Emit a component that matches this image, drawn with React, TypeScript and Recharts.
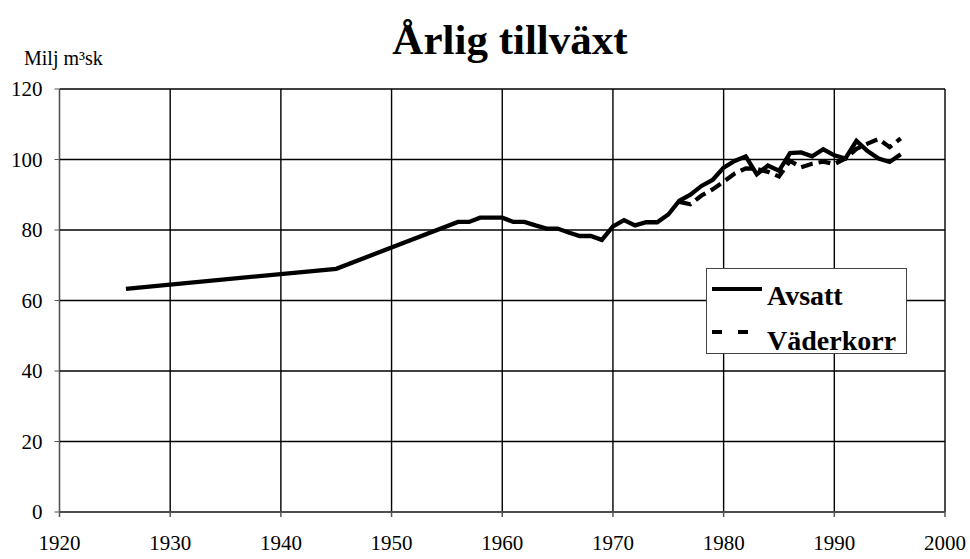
import { LineChart, Line, XAxis, YAxis, CartesianGrid } from "recharts";

const years = [1926, 1945, 1956, 1957, 1958, 1959, 1960, 1961, 1962, 1963, 1964, 1965, 1966, 1967, 1968, 1969, 1970, 1971, 1972, 1973, 1974, 1975, 1976, 1977, 1978, 1979, 1980, 1981, 1982, 1983, 1984, 1985, 1986, 1987, 1988, 1989, 1990, 1991, 1992, 1993, 1994, 1995, 1996];

const avsatt = [63.3, 69, 82.3, 82.3, 83.5, 83.5, 83.5, 82.3, 82.3, 81.3, 80.4, 80.4, 79.3, 78.3, 78.3, 77.2, 81, 82.8, 81.3, 82.2, 82.2, 84.4, 88.3, 90, 92.5, 94.2, 97.7, 99.6, 100.9, 95.8, 98.3, 96.8, 101.8, 102, 100.9, 102.9, 101.2, 100.3, 105.3, 102.4, 100.3, 99.3, 101.5];

const vaderkorr = [null, null, null, null, null, null, null, null, null, null, null, null, null, null, null, null, null, null, null, null, null, null, 88, 87.3, 89.8, 91.5, 93.7, 96, 97.5, 97.3, 96.5, 95.2, 99.6, 97.8, 98.8, 99.4, 98.7, 100.3, 103, 104.5, 105.8, 103.5, 106];

const xTicks = [1920, 1930, 1940, 1950, 1960, 1970, 1980, 1990, 2000];
const yTicks = [0, 20, 40, 60, 80, 100, 120];

const data = years.map((year, i) => ({ year, avsatt: avsatt[i], vaderkorr: vaderkorr[i] }));

const font = "'Liberation Serif', 'Times New Roman', serif";

function LegendBox() {
  return (
    <div
      style={{
        position: "absolute",
        left: 706,
        top: 268,
        width: 199,
        height: 84,
        border: "1px solid #444",
        background: "#fff",
        fontFamily: font,
        fontWeight: "bold",
        fontSize: 28,
        lineHeight: "normal",
      }}
    >
      <svg width={60} height={84} style={{ position: "absolute", left: 0, top: 0 }}>
        <line x1={5} x2={55} y1={20} y2={20} stroke="#000" strokeWidth={4} />
        <line x1={5} x2={45} y1={63} y2={63} stroke="#000" strokeWidth={4} strokeDasharray="10 16" />
      </svg>
      <div style={{ position: "absolute", left: 60, top: 11 }}>Avsatt</div>
      <div style={{ position: "absolute", left: 60, top: 56 }}>Väderkorr</div>
    </div>
  );
}

export default function App() {
  return (
    <div style={{ position: "absolute", left: 0, top: 0, width: 970, height: 559, background: "#fff", fontFamily: font }}>
      <div style={{ position: "absolute", left: 0, width: 1020, top: 15, textAlign: "center", fontSize: 43, fontWeight: "bold" }}>
        Årlig tillväxt
      </div>
      <div style={{ position: "absolute", left: 24, top: 47, fontSize: 20 }}>Milj m³sk</div>
      <LineChart width={970} height={559} data={data} margin={{ top: 89, right: 25, bottom: 7, left: 9.5 }}>
        <CartesianGrid stroke="#000" strokeWidth={1.4} />
        <XAxis
          dataKey="year"
          type="number"
          domain={[1920, 2000]}
          ticks={xTicks}
          height={40}
          tickSize={5}
          tickMargin={18}
          stroke="#555"
          strokeWidth={1.5}
          tick={{ fill: "#000", fontSize: 21, fontFamily: font }}
        />
        <YAxis
          type="number"
          domain={[0, 120]}
          ticks={yTicks}
          width={50}
          tickSize={5}
          tickMargin={12}
          stroke="#555"
          strokeWidth={1}
          tick={{ fill: "#000", fontSize: 21, fontFamily: font }}
        />
        <Line dataKey="avsatt" stroke="#000" strokeWidth={4.3} dot={false} isAnimationActive={false} />
        <Line dataKey="vaderkorr" stroke="#000" strokeWidth={4.3} strokeDasharray="12 6" dot={false} isAnimationActive={false} />
      </LineChart>
      <LegendBox />
    </div>
  );
}
